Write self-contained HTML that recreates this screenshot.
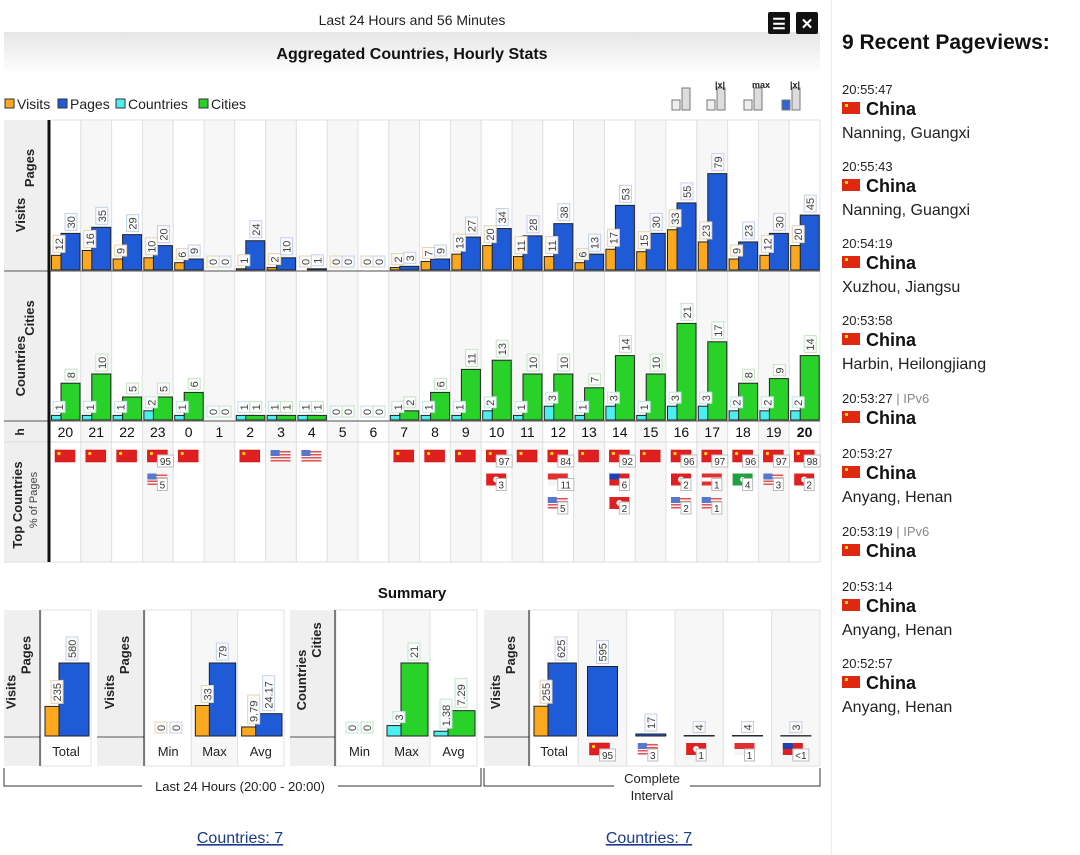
<!DOCTYPE html>
<html><head><meta charset="utf-8"><style>
body{margin:0;width:1080px;height:855px;overflow:hidden;background:#fff;font-family:"Liberation Sans",sans-serif;position:relative}
#side{position:absolute;left:831px;top:0;width:249px;height:855px;border-left:1px solid #eee}
#side div{position:absolute;left:10px;white-space:nowrap}
.t{font-size:13px;color:#222}.t span{color:#888}
.c{font-size:18px;font-weight:bold;color:#111}
.ci{font-size:16px;color:#222}
.fl{display:inline-block;width:18px;height:12px;background:#de2910;vertical-align:1px;margin-right:6px;position:relative}
.fl:after{content:"";position:absolute;left:3px;top:2px;width:3px;height:3px;background:#ffde00}
a{color:#1a3a8a}
</style></head><body>
<svg id="chart" width="830" height="855" style="position:absolute;left:0;top:0" font-family="Liberation Sans, sans-serif"></svg>
<div id="side">
<div style="top:31px;font-size:21px;font-weight:bold;color:#111">9 Recent Pageviews:</div>
</div>
<script>
const hours=[20,21,22,23,0,1,2,3,4,5,6,7,8,9,10,11,12,13,14,15,16,17,18,19,20];
const visits=[12,16,9,10,6,0,1,2,0,0,0,2,7,13,20,11,11,6,17,15,33,23,9,12,20];
const pages=[30,35,29,20,9,0,24,10,1,0,0,3,9,27,34,28,38,13,53,30,55,79,23,30,45];
const countries=[1,1,1,2,1,0,1,1,1,0,0,1,1,1,2,1,3,1,3,1,3,3,2,2,2];
const cities=[8,10,5,5,6,0,1,1,1,0,0,2,6,11,13,10,10,7,14,10,21,17,8,9,14];
const topFlags=[["cn"],["cn"],["cn"],["cn:95","us:5"],["cn"],[],["cn"],["us"],["us"],[],[],["cn"],["cn"],["cn"],["cn:97","hk:3"],["cn"],["cn:84","sg:11","us:5"],["cn"],["cn:92","tw:6","hk:2"],["cn"],["cn:96","hk:2","us:2"],["cn:97","at:1","us:1"],["cn:96","mo:4"],["cn:97","us:3"],["cn:98","hk:2"]];
const sumCats=[["Total"],["Min","Max","Avg"],["Min","Max","Avg"],["Total","cn:95","us:3","hk:1","sg:1","tw:<1"]];
const sumA=[[235],[0,33,9.79],[0,3,1.38],[255,null,null,null,null,null]];
const sumB=[[580],[0,79,24.17],[0,21,7.29],[625,595,17,4,4,3]];
const sumLabA=[["235"],["0","33","9.79"],["0","3","1.38"],["255"]];
const sumLabB=[["580"],["0","79","24.17"],["0","21","7.29"],["625","595","17","4","4","3"]];
const recent=[["20:55:47","","Nanning, Guangxi"],["20:55:43","","Nanning, Guangxi"],["20:54:19","","Xuzhou, Jiangsu"],["20:53:58","","Harbin, Heilongjiang"],["20:53:27","IPv6",""],["20:53:27","","Anyang, Henan"],["20:53:19","IPv6",""],["20:53:14","","Anyang, Henan"],["20:52:57","","Anyang, Henan"]];

const S=document.getElementById('chart'),NS='http://www.w3.org/2000/svg';
function E(tag,at,par,txt){const e=document.createElementNS(NS,tag);for(const k in at)e.setAttribute(k,at[k]);if(txt!==undefined)e.textContent=txt;(par||S).appendChild(e);return e;}
const COL={v:'#fba81f',p:'#1f5bd6',c:'#4af0f0',ci:'#28d228'};
const BOR={v:'#e6d3b0',p:'#c4d0ea',c:'#c0e6e6',ci:'#c4e4c4'};
function vlabel(cx,top,txt,k,name){
  const h=txt.length*6+5;
  const r=E('rect',{x:cx-6,y:top-3-h,width:12,height:h,fill:'#fbfbfb',stroke:BOR[k],'stroke-width':1});
  
  const t=E('text',{x:cx+4,y:top-5,'font-size':11,fill:'#444',transform:`rotate(-90 ${cx+4} ${top-5})`},undefined,txt);
  
}
function vtitle(x,y,txt,size){const t=E('text',{x:x,y:y,'font-size':size||13,'font-weight':'bold',fill:'#222','text-anchor':'middle',transform:`rotate(-90 ${x} ${y})`},undefined,txt);return t;}
function flag(x,y,code){
  const g=E('g',{});
  if(code==='us'){E('rect',{x:x,y:y,width:20,height:12,fill:'#f3f3f3'},g);for(let i=0;i<4;i++)E('rect',{x:x,y:y+1+i*3,width:20,height:1.5,fill:'#e05555'},g);E('rect',{x:x,y:y,width:9,height:6,fill:'#5577cc'},g);}
  else if(code==='tw'){E('rect',{x:x,y:y,width:20,height:12,fill:'#e02020'},g);E('rect',{x:x,y:y,width:10,height:6,fill:'#2040b0'},g);}
  else if(code==='sg'){E('rect',{x:x,y:y,width:20,height:6,fill:'#e03030'},g);E('rect',{x:x,y:y+6,width:20,height:6,fill:'#f5f5f5'},g);}
  else if(code==='at'){E('rect',{x:x,y:y,width:20,height:12,fill:'#e03030'},g);E('rect',{x:x,y:y+4,width:20,height:4,fill:'#fff'},g);}
  else if(code==='mo'){E('rect',{x:x,y:y,width:20,height:12,fill:'#22a040'},g);E('circle',{cx:x+10,cy:y+6,r:2.5,fill:'#fff'},g);}
  else if(code==='hk'){E('rect',{x:x,y:y,width:20,height:12,fill:'#e02020'},g);E('circle',{cx:x+10,cy:y+6,r:3,fill:'#fff'},g);}
  else {E('rect',{x:x,y:y,width:20,height:12,fill:'#e02020',stroke:'#c01010','stroke-width':0.5},g);E('circle',{cx:x+4,cy:y+3.5,r:1.6,fill:'#ffde00'},g);}
}
function pct(x,y,txt){const w=txt.length*6+4;const r=E('rect',{x:x,y:y,width:w,height:12,fill:'#fff',stroke:'#bbb'});const t=E('text',{x:x+w/2,y:y+10,'font-size':10,fill:'#333','text-anchor':'middle'},undefined,txt);}

// header
let t;
t=E('text',{x:412,y:25,'font-size':14,'text-anchor':'middle',fill:'#222'},undefined,'Last 24 Hours and 56 Minutes');
const gd=E('defs',{});const lg=E('linearGradient',{id:'hg',x1:0,y1:0,x2:0,y2:1},gd);E('stop',{offset:0,'stop-color':'#e6e6e6'},lg);E('stop',{offset:1,'stop-color':'#fdfdfd'},lg);
E('rect',{x:4,y:32,width:816,height:40,fill:'url(#hg)'});
t=E('text',{x:412,y:59,'font-size':16,'font-weight':'bold','text-anchor':'middle',fill:'#111'},undefined,'Aggregated Countries, Hourly Stats');
[[768,'☰','menu-button'],[796,'✕','close-button']].forEach(b=>{const g=E('g',{});E('rect',{x:b[0],y:12,width:22,height:22,fill:'#111',rx:2},g);E('text',{x:b[0]+11,y:29,'font-size':15,'font-weight':'bold',fill:'#fff','text-anchor':'middle'},g,b[1]);});
// legend
[['Visits','v',4],['Pages','p',57],['Countries','c',115],['Cities','ci',198]].forEach(l=>{const g=E('g',{});E('rect',{x:l[2]+1,y:99,width:9,height:9,fill:COL[l[1]],stroke:'#333'},g);E('text',{x:l[2]+13,y:109,'font-size':14,fill:'#222'},g,l[0]);});
// toolbar icons
[668,703,740,778].forEach((x,i)=>{const g=E('g',{});E('rect',{x:x+14,y:88,width:8,height:22,fill:'#ddd',stroke:'#777'},g);E('rect',{x:x+4,y:100,width:8,height:10,fill:i==3?'#3366cc':'#eee',stroke:'#777'},g);if(i>0)E('text',{x:x+12,y:88,'font-size':9,'font-weight':'bold',fill:'#222'},g,i==2?'max':'|x|');});

// main panels
const X0=50,CW=30.8,N=hours.length;
const col=i=>X0+i*CW;
const TB=270,BB=420,ys1=v=>TB-v*1.22,ys2=v=>BB-v*4.6;
E('rect',{x:4,y:120,width:44,height:442,fill:'#efefef'});
for(let i=0;i<N;i++){E('rect',{x:col(i),y:120,width:CW,height:442,fill:i%2?'#f7f7f7':'#fff',stroke:'#e2e2e2','stroke-width':1});}
E('line',{x1:4,y1:271,x2:820,y2:271,stroke:'#888','stroke-width':1.5});
E('line',{x1:4,y1:421,x2:820,y2:421,stroke:'#888','stroke-width':1.5});
E('line',{x1:4,y1:442,x2:820,y2:442,stroke:'#ddd'});
E('line',{x1:4,y1:562,x2:820,y2:562,stroke:'#ddd'});
E('line',{x1:49,y1:120,x2:49,y2:562,stroke:'#111','stroke-width':3});
vtitle(25,215,'Visits');vtitle(34,168,'Pages');vtitle(25,366,'Countries');vtitle(34,318,'Cities');vtitle(24,432,'h',12);vtitle(22,505,'Top Countries',13);
t=E('text',{x:37,y:500,'font-size':11,fill:'#444','text-anchor':'middle',transform:'rotate(-90 37 500)'},undefined,'% of Pages');
function bars(i,a,b,ka,kb,ys,base,nm){
  const x=col(i);
  const ra=E('rect',{x:x+1.5,y:ys(a),width:18,height:base-ys(a),fill:COL[ka],stroke:'#222','stroke-width':1});
  const rb=E('rect',{x:x+11,y:ys(b),width:19,height:base-ys(b),fill:COL[kb],stroke:'#222','stroke-width':1});
  vlabel(x+9,ys(a),String(a),ka,nm[0]);vlabel(x+21,ys(b),String(b),kb,nm[1]);
}
for(let i=0;i<N;i++){
  bars(i,visits[i],pages[i],'v','p',ys1,TB,['visits','pages']);
  bars(i,countries[i],cities[i],'c','ci',ys2,BB,['countries','cities']);
  const ht=E('text',{x:col(i)+CW/2,y:437,'font-size':14,'text-anchor':'middle',fill:'#111','font-weight':i==N-1?'bold':'normal'},undefined,String(hours[i]));
  topFlags[i].forEach((f,j)=>{const [c,p]=f.split(':');const fy=450+j*23.5;flag(col(i)+5,fy,c);if(p)pct(col(i)+15,fy+5,p);});
}
// summary
t=E('text',{x:412,y:598,'font-size':15,'font-weight':'bold','text-anchor':'middle',fill:'#111'},undefined,'Summary');
const panels=[{x:4,ax:41,w:87,t:['Visits','Pages'],k:['v','p']},{x:97,ax:145,w:187,t:['Visits','Pages'],k:['v','p']},{x:290,ax:336,w:187,t:['Countries','Cities'],k:['c','ci']},{x:484,ax:530,w:336,t:['Visits','Pages'],k:['v','p']}];
const SB=736;
panels.forEach((P,pi)=>{
  const g=E('g',{});
  E('rect',{x:P.x,y:610,width:P.ax-P.x,height:156,fill:'#efefef'},g);
  const cats=sumCats[pi],cw=(P.x+P.w-P.ax)/cats.length;
  const mx=Math.max(...sumB[pi],...sumA[pi].filter(v=>v!==null));
  const sy=v=>SB-v/mx*73;
  cats.forEach((c,j)=>{
    const cx=P.ax+j*cw;
    E('rect',{x:cx,y:610,width:cw,height:156,fill:j%2?'#f7f7f7':'#fff',stroke:'#e2e2e2'});
    const a=sumA[pi][j],b=sumB[pi][j];
    if(a!==null&&a!==undefined){
      const r=E('rect',{x:cx+4,y:sy(a),width:28,height:SB-sy(a),fill:COL[P.k[0]],stroke:'#222'});
      const r2=E('rect',{x:cx+18,y:sy(b),width:cw-20,height:SB-sy(b),fill:COL[P.k[1]],stroke:'#222'});
      vlabel(cx+16,sy(a),sumLabA[pi][j],P.k[0],'summary-'+P.t[0].toLowerCase());
      vlabel(cx+31,sy(b),sumLabB[pi][j],P.k[1],'summary-'+P.t[1].toLowerCase());
    } else {
      const r2=E('rect',{x:cx+cw/2-15,y:sy(b),width:30,height:SB-sy(b),fill:COL.p,stroke:'#222'});
      vlabel(cx+cw/2,sy(b),sumLabB[pi][j],'p','summary-country-pages');
    }
    if(c.indexOf(':')>0){const [f,p]=c.split(':');flag(cx+cw/2-13,743,f);pct(cx+cw/2-3,749,p);}
    else{const tt=E('text',{x:cx+cw/2,y:756,'font-size':13,'text-anchor':'middle',fill:'#222'},undefined,c);}
  });
  E('line',{x1:P.x,y1:SB+1,x2:P.x+P.w,y2:SB+1,stroke:'#888','stroke-width':1.5},g);
  E('line',{x1:P.ax,y1:610,x2:P.ax,y2:766,stroke:'#111','stroke-width':3},g);
  const lx=P.x+(P.ax-P.x)/2;
  if(P.t[0]=='Countries'){vtitle(lx-7,680,P.t[0]);vtitle(lx+8,640,P.t[1]);}
  else{vtitle(lx-7,692,P.t[0]);vtitle(lx+8,655,P.t[1]);}
});
// brackets
E('path',{d:'M4 768 V786 H142 M338 786 H481 V768',fill:'none',stroke:'#333'});
t=E('text',{x:240,y:791,'font-size':13,'text-anchor':'middle',fill:'#222'},undefined,'Last 24 Hours (20:00 - 20:00)');
E('path',{d:'M484 768 V786 H614 M690 786 H820 V768',fill:'none',stroke:'#333'});
t=E('text',{x:652,y:783,'font-size':13,'text-anchor':'middle',fill:'#222'},undefined,'Complete');
E('text',{x:652,y:800,'font-size':13,'text-anchor':'middle',fill:'#222'},undefined,'Interval');
[[240,'countries-link-24h'],[649,'countries-link-complete']].forEach(l=>{const tt=E('text',{x:l[0],y:843,'font-size':16,'text-anchor':'middle',fill:'#1a3a8a','text-decoration':'underline'},undefined,'Countries: 7');});

// sidebar
const side=document.getElementById('side');
const tys=[82,159,236,313,391,446,524,579,656];
recent.forEach((r,i)=>{
  const y=tys[i];
  const a=document.createElement('div');a.className='t';a.style.top=y+'px';a.innerHTML=r[0]+(r[1]?' <span>| '+r[1]+'</span>':'');
  
  side.appendChild(a);
  const b=document.createElement('div');b.className='c';b.style.top=(y+17)+'px';b.innerHTML='<span class="fl"></span>China';
  
  side.appendChild(b);
  if(r[2]){const c=document.createElement('div');c.className='ci';c.style.top=(y+43)+'px';c.textContent=r[2];
  
  side.appendChild(c);}
});
</script>
</body></html>
